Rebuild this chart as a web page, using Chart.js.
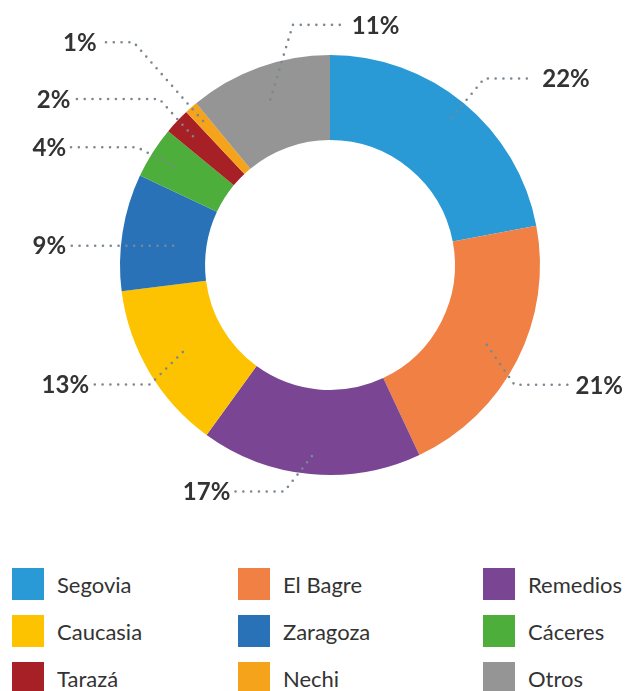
<!DOCTYPE html>
<html>
<head>
<meta charset="utf-8">
<script src="https://cdn.jsdelivr.net/npm/chart.js@4.4.0/dist/chart.umd.min.js"></script>
<style>
  body { margin: 0; background: #fff; width: 627px; height: 691px; overflow: hidden; position: relative; }
  #wrap { position: absolute; left: 0; top: 0; width: 627px; height: 530px; }
  #leyenda { position: absolute; left: 12px; top: 568px; width: 615px; font-family: Lato, "Open Sans", sans-serif; font-size: 22px; color: #333; }
  .item { position: absolute; display: flex; align-items: center; height: 32px; }
  .item span.caja { width: 32px; height: 32px; margin-right: 13px; display: inline-block; }
</style>
</head>
<body>
<div id="wrap"><canvas id="grafico" width="627" height="530"></canvas></div>
<div id="leyenda"></div>
<script>
// datos del grafico
var municipios = ['Segovia', 'El Bagre', 'Remedios', 'Caucasia', 'Zaragoza', 'Cáceres', 'Tarazá', 'Nechi', 'Otros'];
var porcentajes = [22, 21, 17, 13, 9, 4, 2, 1, 11];
var colores = ['#2A9AD6', '#F08044', '#7A4593', '#FDC300', '#2A72B8', '#4DAE3C', '#A62025', '#F5A31A', '#959595'];

// trazado de las lineas guia (radio inicio, radio codo, giros en grados, largo horizontal, lado)
var guias = [
  { r0: 191, r1: 242, g0: 0, giro: 0, largo: 50 },
  { r0: 176, r1: 220, g0: 0, giro: 6, largo: 53 },
  { r0: 192, r1: 231, g0: 0, giro: 6, largo: 50 },
  { r0: 171, r1: 216, g0: 0, giro: -3, largo: 57 },
  { r0: 158, r1: null, g0: -2, giro: 0, largo: 103 },
  { r0: 183, r1: 226, g0: 0, giro: -1, largo: 67 },
  { r0: 188, r1: 238, g0: 0, giro: 1, largo: 85 },
  { r0: 192, r1: 297, g0: 0, giro: 0, largo: 33 },
  { r0: 176, r1: 243, g0: 0, giro: 11, largo: 51, lado: 1 }
];

var etiquetas = {
  id: 'etiquetas',
  afterDatasetsDraw: function (chart) {
    var ctx = chart.ctx;
    var arcos = chart.getDatasetMeta(0).data;
    var grado = Math.PI / 180;
    ctx.save();
    arcos.forEach(function (arco, i) {
      var g = guias[i];
      var medio = (arco.startAngle + arco.endAngle) / 2;
      var a0 = medio + g.g0 * grado;
      var x0 = arco.x + Math.cos(a0) * g.r0;
      var y0 = arco.y + Math.sin(a0) * g.r0;
      var x1 = x0, y1 = y0;
      if (g.r1) {
        var a = medio + g.giro * grado;
        x1 = arco.x + Math.cos(a) * g.r1;
        y1 = arco.y + Math.sin(a) * g.r1;
      }
      var derecha = g.lado ? g.lado > 0 : Math.cos(medio) >= 0;
      var x2 = derecha ? x1 + g.largo : x1 - g.largo;

      ctx.beginPath();
      ctx.setLineDash([0, 7.8]);
      ctx.lineCap = 'round';
      ctx.lineWidth = 2.6;
      ctx.strokeStyle = '#7b8791';
      ctx.moveTo(x0, y0);
      if (g.r1) ctx.lineTo(x1, y1);
      ctx.lineTo(x2, y1);
      ctx.stroke();

      ctx.setLineDash([]);
      ctx.fillStyle = '#333';
      ctx.font = 'bold 24px Lato, sans-serif';
      ctx.textBaseline = 'middle';
      ctx.textAlign = derecha ? 'left' : 'right';
      ctx.fillText(porcentajes[i] + '%', derecha ? x2 + 8 : x2 - 4, y1 + 1);
    });
    ctx.restore();
  }
};

var ctx = document.getElementById('grafico').getContext('2d');
var grafico = new Chart(ctx, {
  type: 'doughnut',
  data: {
    labels: municipios,
    datasets: [{
      data: porcentajes,
      backgroundColor: colores,
      borderWidth: 0
    }]
  },
  options: {
    responsive: false,
    devicePixelRatio: 1,
    animation: false,
    cutout: '59.5%',
    layout: { padding: { top: 55, bottom: 55, left: 120, right: 87 } },
    plugins: {
      legend: { display: false },
      tooltip: { enabled: false }
    }
  },
  plugins: [etiquetas]
});

// leyenda en tres columnas
var columnas = [0, 226, 471];
var leyenda = document.getElementById('leyenda');
municipios.forEach(function (nombre, i) {
  var d = document.createElement('div');
  d.className = 'item';
  d.style.left = columnas[i % 3] + 'px';
  d.style.top = (Math.floor(i / 3) * 47) + 'px';
  d.innerHTML = '<span class="caja" style="background:' + colores[i] + '"></span>' + nombre;
  leyenda.appendChild(d);
});
</script>
</body>
</html>
